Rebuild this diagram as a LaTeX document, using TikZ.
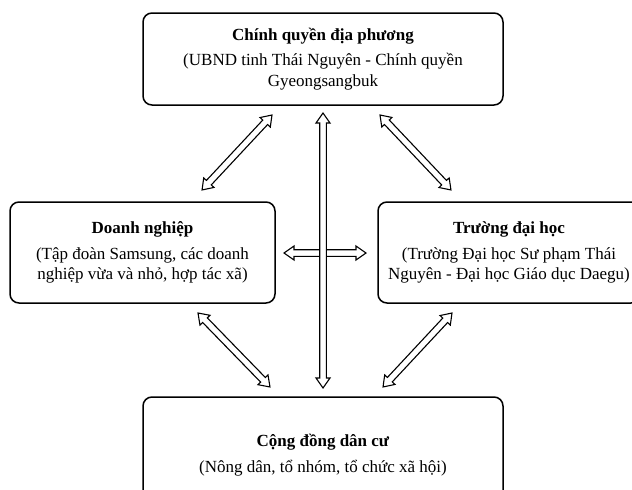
\documentclass[tikz,border=0pt]{standalone}
\usepackage{fontspec}
\setmainfont{Liberation Serif}
\usetikzlibrary{calc}
\tikzset{
  box/.style={draw, line width=1.5pt, rounded corners=9pt, align=center, inner sep=0pt,
    font=\fontsize{17}{20.5}\selectfont},
  biarrow/.style={draw, line width=1.1pt, fill=white, line join=miter},
}
\newcommand\twoheaded[2]{%
  \path[biarrow] let \p1=(#1), \p2=(#2), \n2={veclen(\x2-\x1,\y2-\y1)} in
    [shift={(\p1)}, rotate={atan2(\y2-\y1,\x2-\x1)}]
    (0pt,0pt) -- (10pt,7pt) -- (10pt,3.3pt) -- ({\n2-10pt},3.3pt) -- ({\n2-10pt},7pt)
    -- ({\n2+0pt},0pt) -- ({\n2-10pt},-7pt) -- ({\n2-10pt},-3.3pt) -- (10pt,-3.3pt)
    -- (10pt,-7pt) -- cycle;}
\begin{document}
\begin{tikzpicture}
\useasboundingbox (0pt,0pt) rectangle (632pt,-490pt);
\node[box, minimum width=360pt, minimum height=92pt] (gov) at (323pt,-59pt)
  {\textbf{Chính quyền địa phương}\\[5pt](UBND tinh Thái Nguyên - Chính quyền\\Gyeongsangbuk};
\node[box, minimum width=265pt, minimum height=101pt] (biz) at (142.5pt,-252.5pt)
  {\textbf{Doanh nghiệp}\\[5pt](Tập đoàn Samsung, các doanh\\nghiệp vừa và nhỏ, hợp tác xã)};
\node[box, minimum width=262pt, minimum height=101pt] (uni) at (509pt,-252.5pt)
  {\textbf{Trường đại học}\\[5pt](Trường Đại học Sư phạm Thái\\Nguyên - Đại học Giáo dục Daegu)};
\node[box, minimum width=360pt, minimum height=116pt] (comm) at (323pt,-455pt)
  {\textbf{Cộng đồng dân cư}\\[6pt](Nông dân, tổ nhóm, tổ chức xã hội)};
% arrow end points
\coordinate (a1) at (272pt,-115pt); \coordinate (a2) at (202pt,-190pt);
\coordinate (b1) at (380pt,-115pt); \coordinate (b2) at (451pt,-190pt);
\coordinate (h1) at (284pt,-253pt); \coordinate (h2) at (366pt,-253pt);
\coordinate (v1) at (323pt,-113pt); \coordinate (v2) at (323pt,-388pt);
\coordinate (c1) at (198pt,-313pt); \coordinate (c2) at (270pt,-387pt);
\coordinate (d1) at (452pt,-313pt); \coordinate (d2) at (383pt,-387pt);
\twoheaded{a1}{a2}
\twoheaded{b1}{b2}
\twoheaded{h1}{h2}
\twoheaded{v1}{v2}
\twoheaded{c1}{c2}
\twoheaded{d1}{d2}
\end{tikzpicture}
\end{document}
